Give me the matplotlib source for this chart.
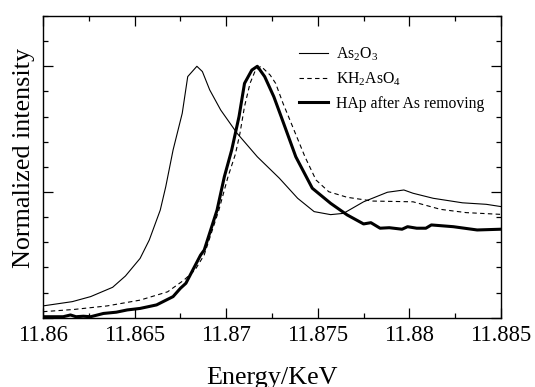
import matplotlib
matplotlib.use("Agg")
import matplotlib.pyplot as plt
from matplotlib.ticker import MultipleLocator, FixedLocator

plt.rcParams['font.family'] = ['Liberation Serif', 'DejaVu Serif']
plt.rcParams['mathtext.default'] = 'regular'

# As2O3 (thin solid)
e_as2o3 = [11.860, 11.8616, 11.8626, 11.8638, 11.8645, 11.8653, 11.8658, 11.8664, 11.8667,
           11.8671, 11.8676, 11.8679, 11.8684, 11.8687, 11.8691, 11.8697, 11.8706, 11.8717,
           11.8729, 11.8739, 11.8748, 11.8757, 11.8764, 11.8775, 11.8788, 11.8797, 11.8802,
           11.8813, 11.8829, 11.8842, 11.885]
v_as2o3 = [0.047, 0.064, 0.084, 0.121, 0.166, 0.236, 0.309, 0.428, 0.521,
           0.667, 0.813, 0.959, 1.000, 0.979, 0.906, 0.826, 0.733, 0.640,
           0.555, 0.475, 0.422, 0.410, 0.415, 0.461, 0.499, 0.508, 0.495,
           0.475, 0.457, 0.451, 0.442]

# KH2AsO4 (dashed)
e_kh2aso4 = [11.860, 11.8617, 11.8635, 11.8653, 11.8668, 11.8677, 11.8683, 11.8688, 11.8696,
             11.8701, 11.8705, 11.87075, 11.8710, 11.8713, 11.8716, 11.8719, 11.8724, 11.8727,
             11.8731, 11.8734, 11.8743, 11.8749, 11.8756, 11.8766, 11.8780, 11.8802, 11.8817,
             11.8831, 11.885]
v_kh2aso4 = [0.024, 0.033, 0.047, 0.070, 0.103, 0.150, 0.190, 0.250, 0.428,
             0.561, 0.650, 0.733, 0.840, 0.932, 0.985, 1.000, 0.965, 0.932,
             0.853, 0.800, 0.640, 0.548, 0.501, 0.479, 0.464, 0.461, 0.431,
             0.418, 0.411]

# HAp after As removing (thick solid)
e_hap = [11.860, 11.8611, 11.8615, 11.8618, 11.8622, 11.8626, 11.8633, 11.8640, 11.8646,
         11.8653, 11.8662, 11.8671, 11.8675, 11.8678, 11.8686, 11.8688, 11.8695, 11.8699,
         11.8703, 11.8707, 11.8710, 11.8714, 11.8717, 11.8721, 11.8726, 11.8730, 11.8738,
         11.8747, 11.8757, 11.8766, 11.8775, 11.8779, 11.8784, 11.8789, 11.8796, 11.8799,
         11.8804, 11.8809, 11.8812, 11.8824, 11.8837, 11.885]
v_hap = [0.004, 0.004, 0.011, 0.004, 0.006, 0.004, 0.017, 0.022, 0.031,
         0.037, 0.051, 0.084, 0.117, 0.137, 0.249, 0.269, 0.428, 0.561,
         0.667, 0.800, 0.932, 0.985, 1.000, 0.959, 0.879, 0.800, 0.640,
         0.515, 0.455, 0.409, 0.373, 0.378, 0.356, 0.358, 0.352, 0.362,
         0.356, 0.356, 0.369, 0.362, 0.349, 0.352]

x_ticks = [11.86, 11.865, 11.87, 11.875, 11.88, 11.885]
x_tick_labels = ['11.86', '11.865', '11.87', '11.875', '11.88', '11.885']

fig = plt.figure(figsize=(5.35, 3.87), dpi=100)
ax = fig.add_axes([0.0804, 0.179, 0.856, 0.7797])

ax.plot(e_as2o3, v_as2o3, color='black', lw=0.8, label='As$_2$O$_3$')
ax.plot(e_kh2aso4, v_kh2aso4, color='black', lw=0.8, ls=(0, (4, 3)), label='KH$_2$AsO$_4$')
ax.plot(e_hap, v_hap, color='black', lw=2.2, label='HAp after As removing')

ax.set_xlim(11.86, 11.885)
ax.set_ylim(0, 1.2)
ax.xaxis.set_major_locator(FixedLocator(x_ticks))
ax.set_xticklabels(x_tick_labels)
ax.xaxis.set_minor_locator(MultipleLocator(0.0025))
ax.yaxis.set_major_locator(MultipleLocator(0.5))
ax.yaxis.set_minor_locator(MultipleLocator(0.1))
ax.set_yticklabels([])
ax.tick_params(which='both', direction='in', top=True, right=True, width=0.9, colors='black')
ax.tick_params(which='major', length=7.2, labelsize=16.3, pad=5)
ax.tick_params(which='minor', length=3.6)
for s in ax.spines.values():
    s.set_linewidth(1.0)

ax.set_xlabel('Energy/KeV', fontsize=18.8, labelpad=15)
ax.set_ylabel('Normalized intensity', fontsize=18.8)
ax.yaxis.set_label_coords(-0.018, 0.53)

leg = ax.legend(loc='upper right', frameon=False, fontsize=11.3, handlelength=1.9,
                handletextpad=0.5, labelspacing=0.5, bbox_to_anchor=(0.995, 0.95))

fig.savefig('out.png', dpi=100)
